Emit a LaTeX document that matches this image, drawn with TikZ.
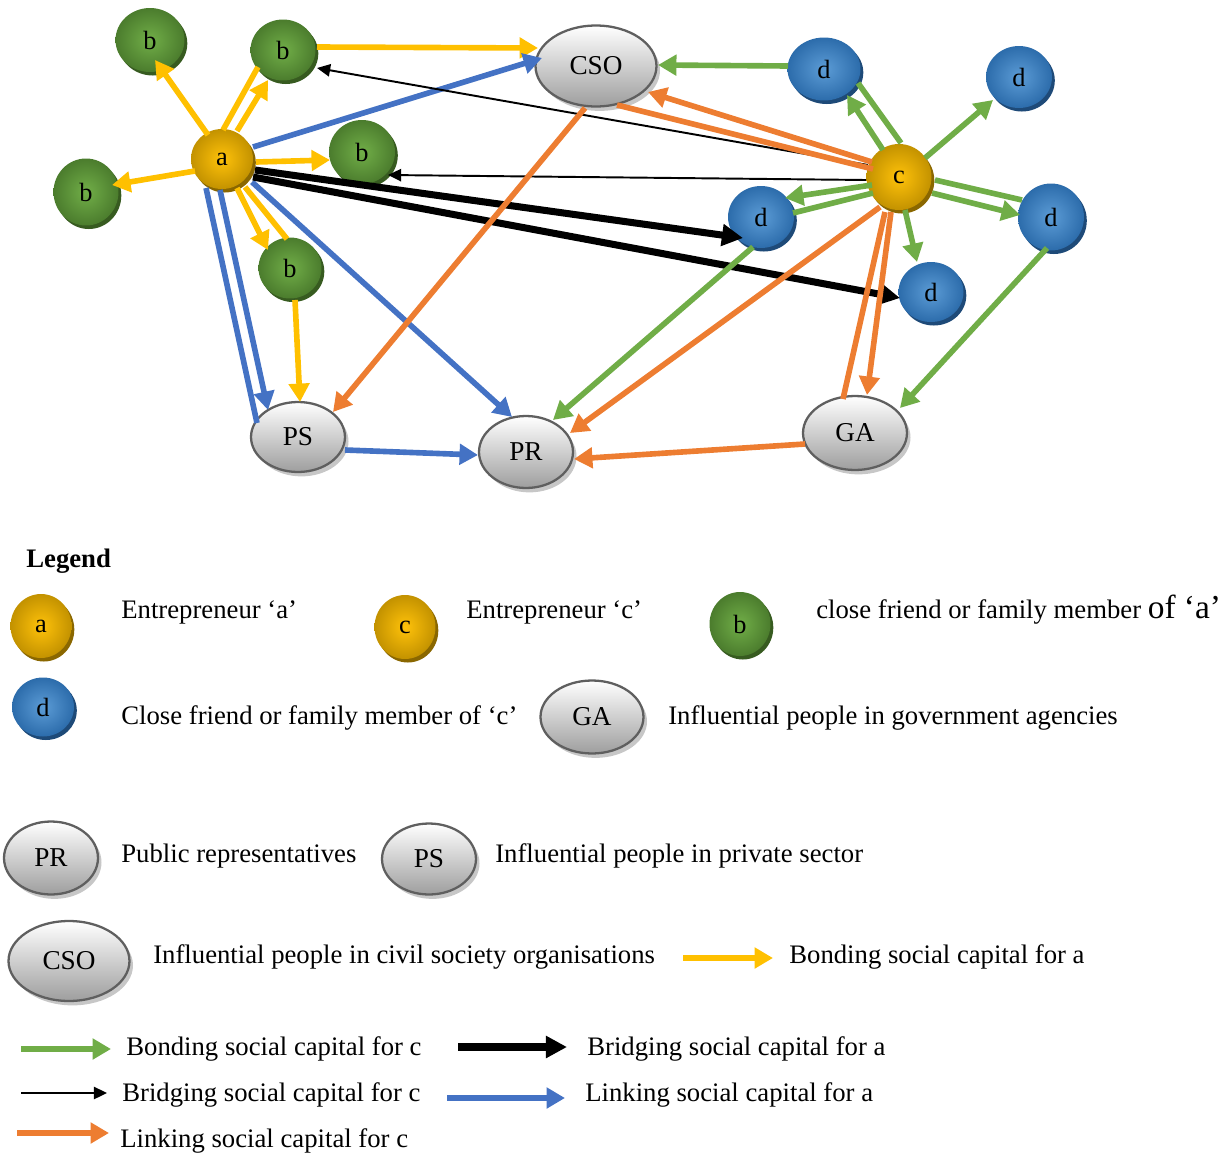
\documentclass[tikz,border=0pt]{standalone}
\usepackage{fontspec}
\setmainfont{Liberation Serif}
\usetikzlibrary{arrows.meta,shapes.geometric,shadows,calc}

\definecolor{cYel}{HTML}{FFC000}
\definecolor{cGrn}{HTML}{70AD47}
\definecolor{cBlu}{HTML}{4472C4}
\definecolor{cOrg}{HTML}{ED7D31}
\definecolor{cGoldIn}{HTML}{FFC20A}
\definecolor{cGoldOut}{HTML}{C39200}
\definecolor{cGoldSh}{HTML}{8A6700}
\definecolor{cGreenIn}{HTML}{71AE48}
\definecolor{cGreenOut}{HTML}{4B7C2D}
\definecolor{cGreenSh}{HTML}{375B20}
\definecolor{cBlueIn}{HTML}{5C9CD6}
\definecolor{cBlueOut}{HTML}{2C6CAB}
\definecolor{cBlueSh}{HTML}{1E4A78}
\definecolor{cEllBorder}{HTML}{5F5F5F}
\definecolor{cEllBottom}{HTML}{9E9E9E}

\tikzset{
  ballbase/.style={ellipse, inner sep=0pt, font=\fontsize{15}{15}\selectfont},
  goldball/.style={ballbase, inner color=cGoldIn, outer color=cGoldOut,
    drop shadow={shadow xshift=1.6pt, shadow yshift=-2pt, fill=cGoldSh, opacity=1}},
  greenball/.style={ballbase, inner color=cGreenIn, outer color=cGreenOut,
    drop shadow={shadow xshift=1.6pt, shadow yshift=-2pt, fill=cGreenSh, opacity=1}},
  blueball/.style={ballbase, inner color=cBlueIn, outer color=cBlueOut,
    drop shadow={shadow xshift=1.6pt, shadow yshift=-2pt, fill=cBlueSh, opacity=1}},
  grayell/.style={ellipse, inner sep=0pt, draw=cEllBorder, line width=1.3pt,
    top color=white, bottom color=cEllBottom,
    drop shadow={shadow xshift=2pt, shadow yshift=-2.5pt, fill=black!22, opacity=1},
    font=\fontsize{15.5}{15.5}\selectfont},
  lbl/.style={anchor=base west, inner sep=0pt, font=\fontsize{15.2}{18}\selectfont},
  ln/.style={line width=3.2pt},
  hd/.style={-{Triangle[length=10.5pt,width=11.5pt]}},
  yel/.style={ln, draw=cYel},
  grn/.style={ln, draw=cGrn},
  blu/.style={ln, draw=cBlu},
  org/.style={ln, draw=cOrg},
  bthick/.style={line width=4pt, draw=black, -{Triangle[length=12pt,width=12pt]}},
  bthin/.style={line width=1.1pt, draw=black, -{Triangle[length=7.5pt,width=7pt]}},
}

\begin{document}
\begin{tikzpicture}[x=0.02cm,y=-0.02cm]
\useasboundingbox (0,0) rectangle (1225,1153);

% ---------- network nodes ----------
\node[goldball, minimum width=1.24cm, minimum height=1.2cm] (a) at (222,159) {a};
\node[goldball, minimum width=1.3cm, minimum height=1.32cm] (c) at (899,177) {c};

\node[greenball, minimum width=1.38cm, minimum height=1.28cm] (b1) at (150,40) {b};
\node[greenball, minimum width=1.3cm, minimum height=1.22cm] (b2) at (283,50) {b};
\node[greenball, minimum width=1.32cm, minimum height=1.28cm] (b3) at (362,152) {b};
\node[greenball, minimum width=1.3cm, minimum height=1.34cm] (b4) at (86,192) {b};
\node[greenball, minimum width=1.26cm, minimum height=1.22cm] (b5) at (290,268) {b};

\node[blueball, minimum width=1.46cm, minimum height=1.26cm] (d1) at (824,69) {d};
\node[blueball, minimum width=1.32cm, minimum height=1.24cm] (d2) at (1019,77) {d};
\node[blueball, minimum width=1.32cm, minimum height=1.24cm] (d3) at (761,217) {d};
\node[blueball, minimum width=1.32cm, minimum height=1.34cm] (d4) at (1051,217) {d};
\node[blueball, minimum width=1.3cm, minimum height=1.2cm] (d5) at (931,292) {d};

\node[grayell, minimum width=2.42cm, minimum height=1.62cm] (CSO) at (596,66) {CSO};
\node[grayell, minimum width=1.88cm, minimum height=1.4cm] (PS) at (298,437) {PS};
\node[grayell, minimum width=1.88cm, minimum height=1.44cm] (PR) at (526,452) {PR};
\node[grayell, minimum width=2.08cm, minimum height=1.48cm] (GA) at (855,433) {GA};

% ---------- bonding social capital for a ----------
\draw[yel,hd] ($(a)+(-14,-24)$) -- ($(b1)+(5,20)$);
\draw[yel]    ($(a)+(1,-29)$)   -- ($(b2)+(-25,17)$);
\draw[yel,hd] ($(a)+(15,-28)$)  -- ($(b2)+(-15,30)$);
\draw[yel,hd] ($(a)+(34,3)$)    -- ($(b3)+(-32,8)$);
\draw[yel,hd] ($(a)+(-27,12)$)  -- ($(b4)+(26,-7)$);
\draw[yel,hd] ($(a)+(15,29)$)   -- ($(b5)+(-22,-18)$);
\draw[yel]    ($(a)+(23,28)$)   -- ($(b5)+(-3,-29)$);
\draw[yel,hd] ($(b5)+(5,32)$)   -- ($(PS)+(2,-35)$);
\draw[yel,hd] ($(b2)+(34,-3)$)  -- ($(CSO)+(-58,-18)$);

% ---------- linking social capital for a ----------
\draw[blu,hd] ($(a)+(31,-12)$) -- ($(CSO)+(-54,-8)$);
\draw[blu]    ($(a)+(-16,29)$) -- ($(PS)+(-41,-14)$);
\draw[blu,hd] ($(a)+(-2,31)$)  -- ($(PS)+(-30,-27)$);
\draw[blu,hd] ($(a)+(30,23)$)  -- ($(PR)+(-14,-35)$);
\draw[blu,hd] ($(PS)+(47,13)$) -- ($(PR)+(-48,3)$);

% ---------- bridging social capital ----------
\draw[bthick] ($(a)+(33,11)$) -- ($(d3)+(-18,21)$);
\draw[bthick] ($(a)+(31,18)$) -- ($(d5)+(-31,6)$);
\draw[bthin] ($(c)+(-31,-12)$) -- ($(b2)+(34,18)$);
\draw[bthin] ($(c)+(-33,3)$)   -- ($(b3)+(26,23)$);

% ---------- bonding social capital for c ----------
\draw[grn,hd] ($(d1)+(-36,-3)$) -- ($(CSO)+(62,-1)$);
\draw[grn,hd] ($(c)+(-16,-27)$) -- ($(d1)+(23,26)$);
\draw[grn]    ($(c)+(2,-34)$)   -- ($(d1)+(34,14)$);
\draw[grn,hd] ($(c)+(26,-19)$)  -- ($(d2)+(-26,23)$);
\draw[grn,hd] ($(c)+(-27,8)$)   -- ($(d3)+(24,-19)$);
\draw[grn]    ($(c)+(-26,16)$)  -- ($(d3)+(32,-4)$);
\draw[grn]    ($(c)+(36,3)$)    -- ($(d4)+(-29,-17)$);
\draw[grn,hd] ($(c)+(33,16)$)   -- ($(d4)+(-31,-2)$);
\draw[grn,hd] ($(c)+(6,33)$)    -- ($(d5)+(-14,-30)$);
\draw[grn,hd] ($(d3)+(-8,30)$)  -- ($(PR)+(27,-32)$);
\draw[grn,hd] ($(d4)+(-4,31)$)  -- ($(GA)+(45,-25)$);

% ---------- linking social capital for c ----------
\draw[org,hd] ($(c)+(-27,-15)$) -- ($(CSO)+(52,26)$);
\draw[org]    ($(c)+(-26,-8)$)  -- ($(CSO)+(21,39)$);
\draw[org,hd] ($(CSO)+(-11,42)$) -- ($(PS)+(35,-25)$);
\draw[org,hd] ($(c)+(-19,30)$)  -- ($(PR)+(44,-19)$);
\draw[org]    ($(c)+(-14,35)$)  -- ($(GA)+(-12,-34)$);
\draw[org,hd] ($(c)+(-8,35)$)   -- ($(GA)+(12,-38)$);
\draw[org,hd] ($(GA)+(-50,11)$) -- ($(PR)+(48,7)$);

% ---------- legend ----------
\node[lbl] (legT) at (26,567) {\bfseries Legend};

\node[goldball, minimum width=1.22cm, minimum height=1.28cm] (la) at (41,626) {a};
\node[lbl] (laT) at (121,618) {Entrepreneur ‘a’};
\node[goldball, minimum width=1.22cm, minimum height=1.28cm] (lc) at (405,627) {c};
\node[lbl] (lcT) at (466,618) {Entrepreneur ‘c’};
\node[greenball, minimum width=1.22cm, minimum height=1.28cm] (lb) at (740,624) {b};
\node[lbl] (lbT) at (816,618) {close friend or family member {\fontsize{19}{20}\selectfont of ‘a’}};

\node[blueball, minimum width=1.24cm, minimum height=1.18cm] (ld) at (43,707) {d};
\node[lbl] (ldT) at (121,724) {Close friend or family member of ‘c’};
\node[grayell, minimum width=2.06cm, minimum height=1.46cm] (lga) at (592,717) {GA};
\node[lbl] (lgaT) at (668,724) {Influential people in government agencies};

\node[grayell, minimum width=1.88cm, minimum height=1.46cm] (lpr) at (51,858) {PR};
\node[lbl] (lprT) at (121,862) {Public representatives};
\node[grayell, minimum width=1.88cm, minimum height=1.42cm] (lps) at (429,859) {PS};
\node[lbl] (lpsT) at (495,862) {Influential people in private sector};

\node[grayell, minimum width=2.42cm, minimum height=1.6cm] (lcso) at (69,961) {CSO};
\node[lbl] (lcsoT) at (153,963) {Influential people in civil society organisations};

\coordinate (ky1) at (683,958);  \coordinate (ky2) at (773,958);
\draw[yel,hd] (ky1) -- (ky2);
\node[lbl] (kyT) at (789,963) {Bonding social capital for a};

\coordinate (kg1) at (21,1049);  \coordinate (kg2) at (111,1049);
\draw[grn,hd] (kg1) -- (kg2);
\node[lbl] (kgT) at (126,1055) {Bonding social capital for c};

\coordinate (kb1) at (458,1047); \coordinate (kb2) at (567,1047);
\draw[bthick] (kb1) -- (kb2);
\node[lbl] (kbT) at (587,1055) {Bridging social capital for a};

\coordinate (kt1) at (21,1093);  \coordinate (kt2) at (107,1093);
\draw[bthin] (kt1) -- (kt2);
\node[lbl] (ktT) at (122,1101) {Bridging social capital for c};

\coordinate (kl1) at (447,1098); \coordinate (kl2) at (565,1098);
\draw[blu,hd] (kl1) -- (kl2);
\node[lbl] (klT) at (585,1101) {Linking social capital for a};

\coordinate (ko1) at (17,1133);  \coordinate (ko2) at (109,1133);
\draw[org,hd] (ko1) -- (ko2);
\node[lbl] (koT) at (120,1147) {Linking social capital for c};
\end{tikzpicture}
\end{document}
